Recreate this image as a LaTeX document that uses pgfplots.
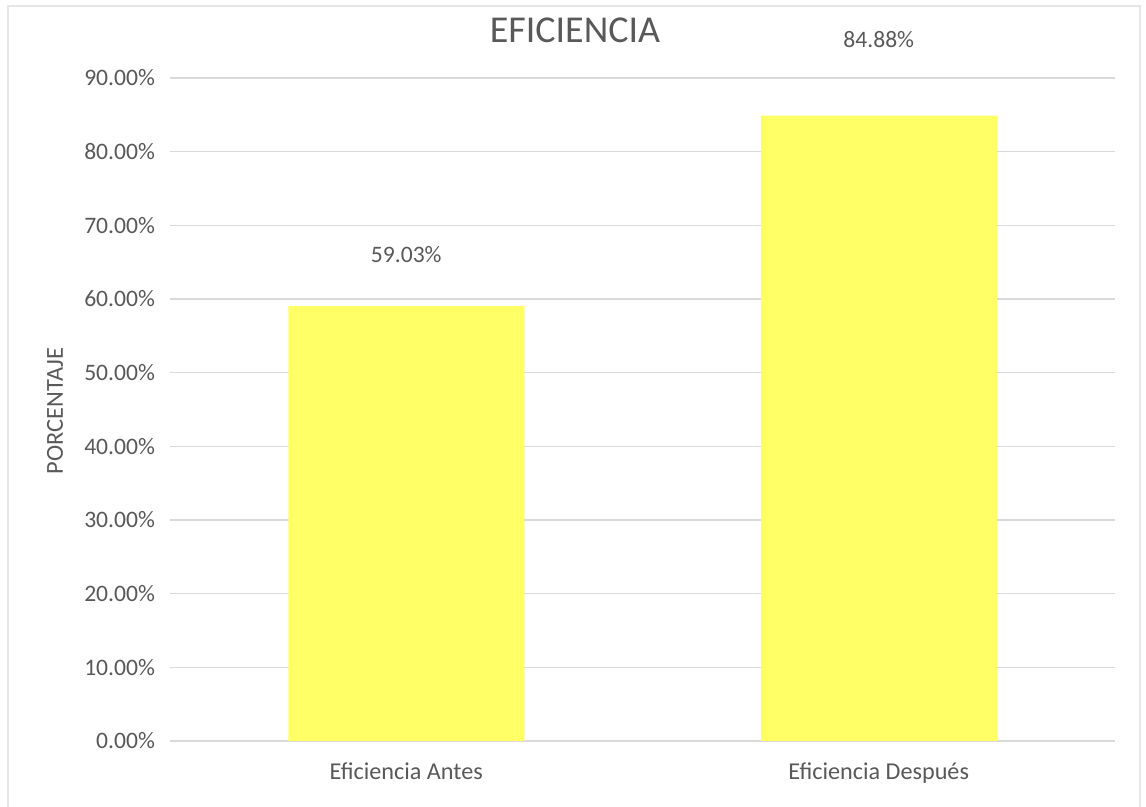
\documentclass[border=0pt]{standalone}
\usepackage{pgfplots}
\pgfplotsset{compat=1.18}
\usepackage{fontspec}
\setmainfont{Carlito}
\definecolor{txt}{RGB}{89,89,89}
\definecolor{gridc}{RGB}{217,217,217}
\definecolor{barc}{RGB}{255,255,102}
\definecolor{framec}{RGB}{230,230,230}
\begin{document}
\begin{tikzpicture}
\path[use as bounding box] (0,0) rectangle (573pt,403.5pt);
\draw[framec, line width=0.6pt] (4pt,-2pt) -- (4pt,400.5pt) -- (570pt,400.5pt) -- (570pt,-2pt);
\node[font=\fontsize{19}{22}\selectfont, text=txt] at (287.5pt,388.5pt) {EFICIENCIA};
\node[font=\fontsize{12.2}{14}\selectfont, text=txt, rotate=90] at (27.5pt,198pt) {PORCENTAJE};
\begin{axis}[
  at={(85pt,33pt)}, anchor=south west,
  scale only axis,
  width=472.5pt, height=331.5pt,
  xmin=-0.5, xmax=1.5,
  ymin=0, ymax=90,
  ytick={0,10,...,90},
  xtick={0,1},
  xticklabels={Eficiencia Antes, Eficiencia Después},
  axis line style={draw=none},
  major tick length=0pt,
  ymajorgrids,
  grid style={gridc, line width=0.8pt},
  /pgf/number format/assume math mode=true,
  yticklabel={\pgfmathprintnumber[fixed,fixed zerofill,precision=2]{\tick}\%},
  yticklabel style={font=\fontsize{11.8}{13}\selectfont, text=txt, xshift=-4pt},
  xticklabel style={font=\fontsize{12.1}{14}\selectfont, text=txt, yshift=-7.5pt},
  clip=false,
]
\addplot[ybar, bar width=118pt, fill=barc, draw=none] coordinates {(0,59.03) (1,84.88)};
\node[font=\fontsize{11.8}{13}\selectfont, text=txt] at (axis cs:0,66.0) {59.03\%};
\node[font=\fontsize{11.8}{13}\selectfont, text=txt] at (axis cs:1,95.2) {84.88\%};
\end{axis}
\end{tikzpicture}
\end{document}
